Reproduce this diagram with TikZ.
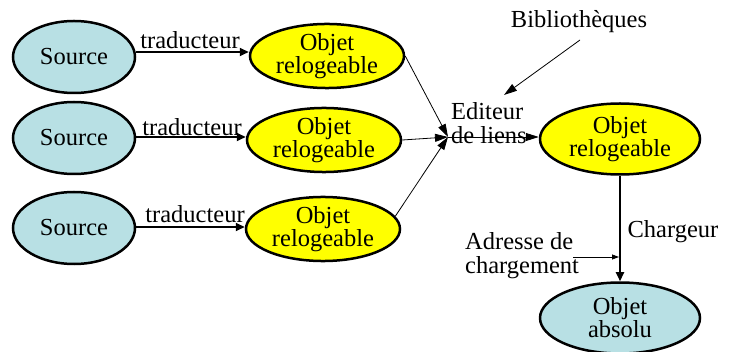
\documentclass[tikz,border=0pt]{standalone}
\usepackage{fontspec}
\setmainfont{Liberation Serif}
\newfontfamily\diagfont{Liberation Serif}
\usetikzlibrary{shapes.geometric,arrows.meta}
\definecolor{srcblue}{RGB}{184,224,228}
\definecolor{objyellow}{RGB}{255,255,0}
\begin{document}
\begin{tikzpicture}[x=1pt,y=-1pt,
  every node/.style={font=\diagfont\fontsize{24.5}{27}\selectfont},
  srcnode/.style={ellipse,draw,line width=2.5pt,fill=srcblue,inner sep=0pt,minimum width=122pt,minimum height=72pt},
  objnode/.style={ellipse,draw,line width=2.5pt,fill=objyellow,inner sep=0pt,minimum width=154pt,minimum height=62pt,align=center},
  bignode/.style={ellipse,draw,line width=2.5pt,inner sep=0pt,minimum width=160pt,minimum height=71pt,align=center},
  thickarrow/.style={line width=2pt,-{Triangle[length=9pt,width=8pt]}},
  thinarrow/.style={line width=0.8pt,-{Triangle[length=13pt,width=8pt]}},
  smallarrow/.style={line width=0.8pt,-{Triangle[length=7pt,width=5pt]}},
  lbl/.style={inner sep=0pt}
]
\useasboundingbox (0,0) rectangle (735,352);
% left column
\node[srcnode] (s1) at (74,57) {Source};
\node[srcnode] (s2) at (74,138) {Source};
\node[srcnode] (s3) at (74,228) {Source};
\node[objnode] (o1) at (327,56) {Objet\\[-4pt]relogeable};
\node[objnode] (o2) at (324,140) {Objet\\[-4pt]relogeable};
\node[objnode] (o3) at (323,229) {Objet\\[-4pt]relogeable};
\draw[thickarrow] (s1.east |- 0,52) coordinate (a1) -- (a1 -| o1.west);
\draw[thickarrow] (s2.east |- 0,137) coordinate (a2) -- (a2 -| o2.west);
\draw[thickarrow] (s3.east |- 0,227) coordinate (a3) -- (a3 -| o3.west);
\node[lbl] (t1) at (190,40) {traducteur};
\node[lbl] (t2) at (192,127) {traducteur};
\node[lbl] (t3) at (195,214) {traducteur};
% linker
\coordinate (E) at (448,137);
\node[lbl,align=left,anchor=north west] (ed) at (451,102) {Editeur\\[-3pt]de liens};
\node[bignode,fill=objyellow] (or) at (620,139) {Objet\\[-4pt]relogeable};
\draw[thinarrow] (o1.east) -- (E);
\draw[thinarrow] (o2.east) -- (E);
\draw[thinarrow] (o3.10) -- (E);
\draw[thinarrow] (E) -- (E -| or.west);
\node[lbl] (bib) at (579,22) {Bibliothèques};
\coordinate (bt) at (504,95);
\draw[thinarrow] (580,40) coordinate (bs) -- (bt);
% loader
\node[bignode,fill=srcblue] (oa) at (620,318) {Objet\\[-4pt]absolu};
\draw[thickarrow] (or.south) -- (oa.north);
\node[lbl] (ch) at (673,232) {Chargeur};
\node[lbl,align=left,anchor=north west] (ad) at (465,232) {Adresse de\\[-3pt]chargement};
\coordinate (as) at (573,257);
\coordinate (ae) at (619,257);
\draw[smallarrow] (as) -- (ae);
\end{tikzpicture}
\end{document}
